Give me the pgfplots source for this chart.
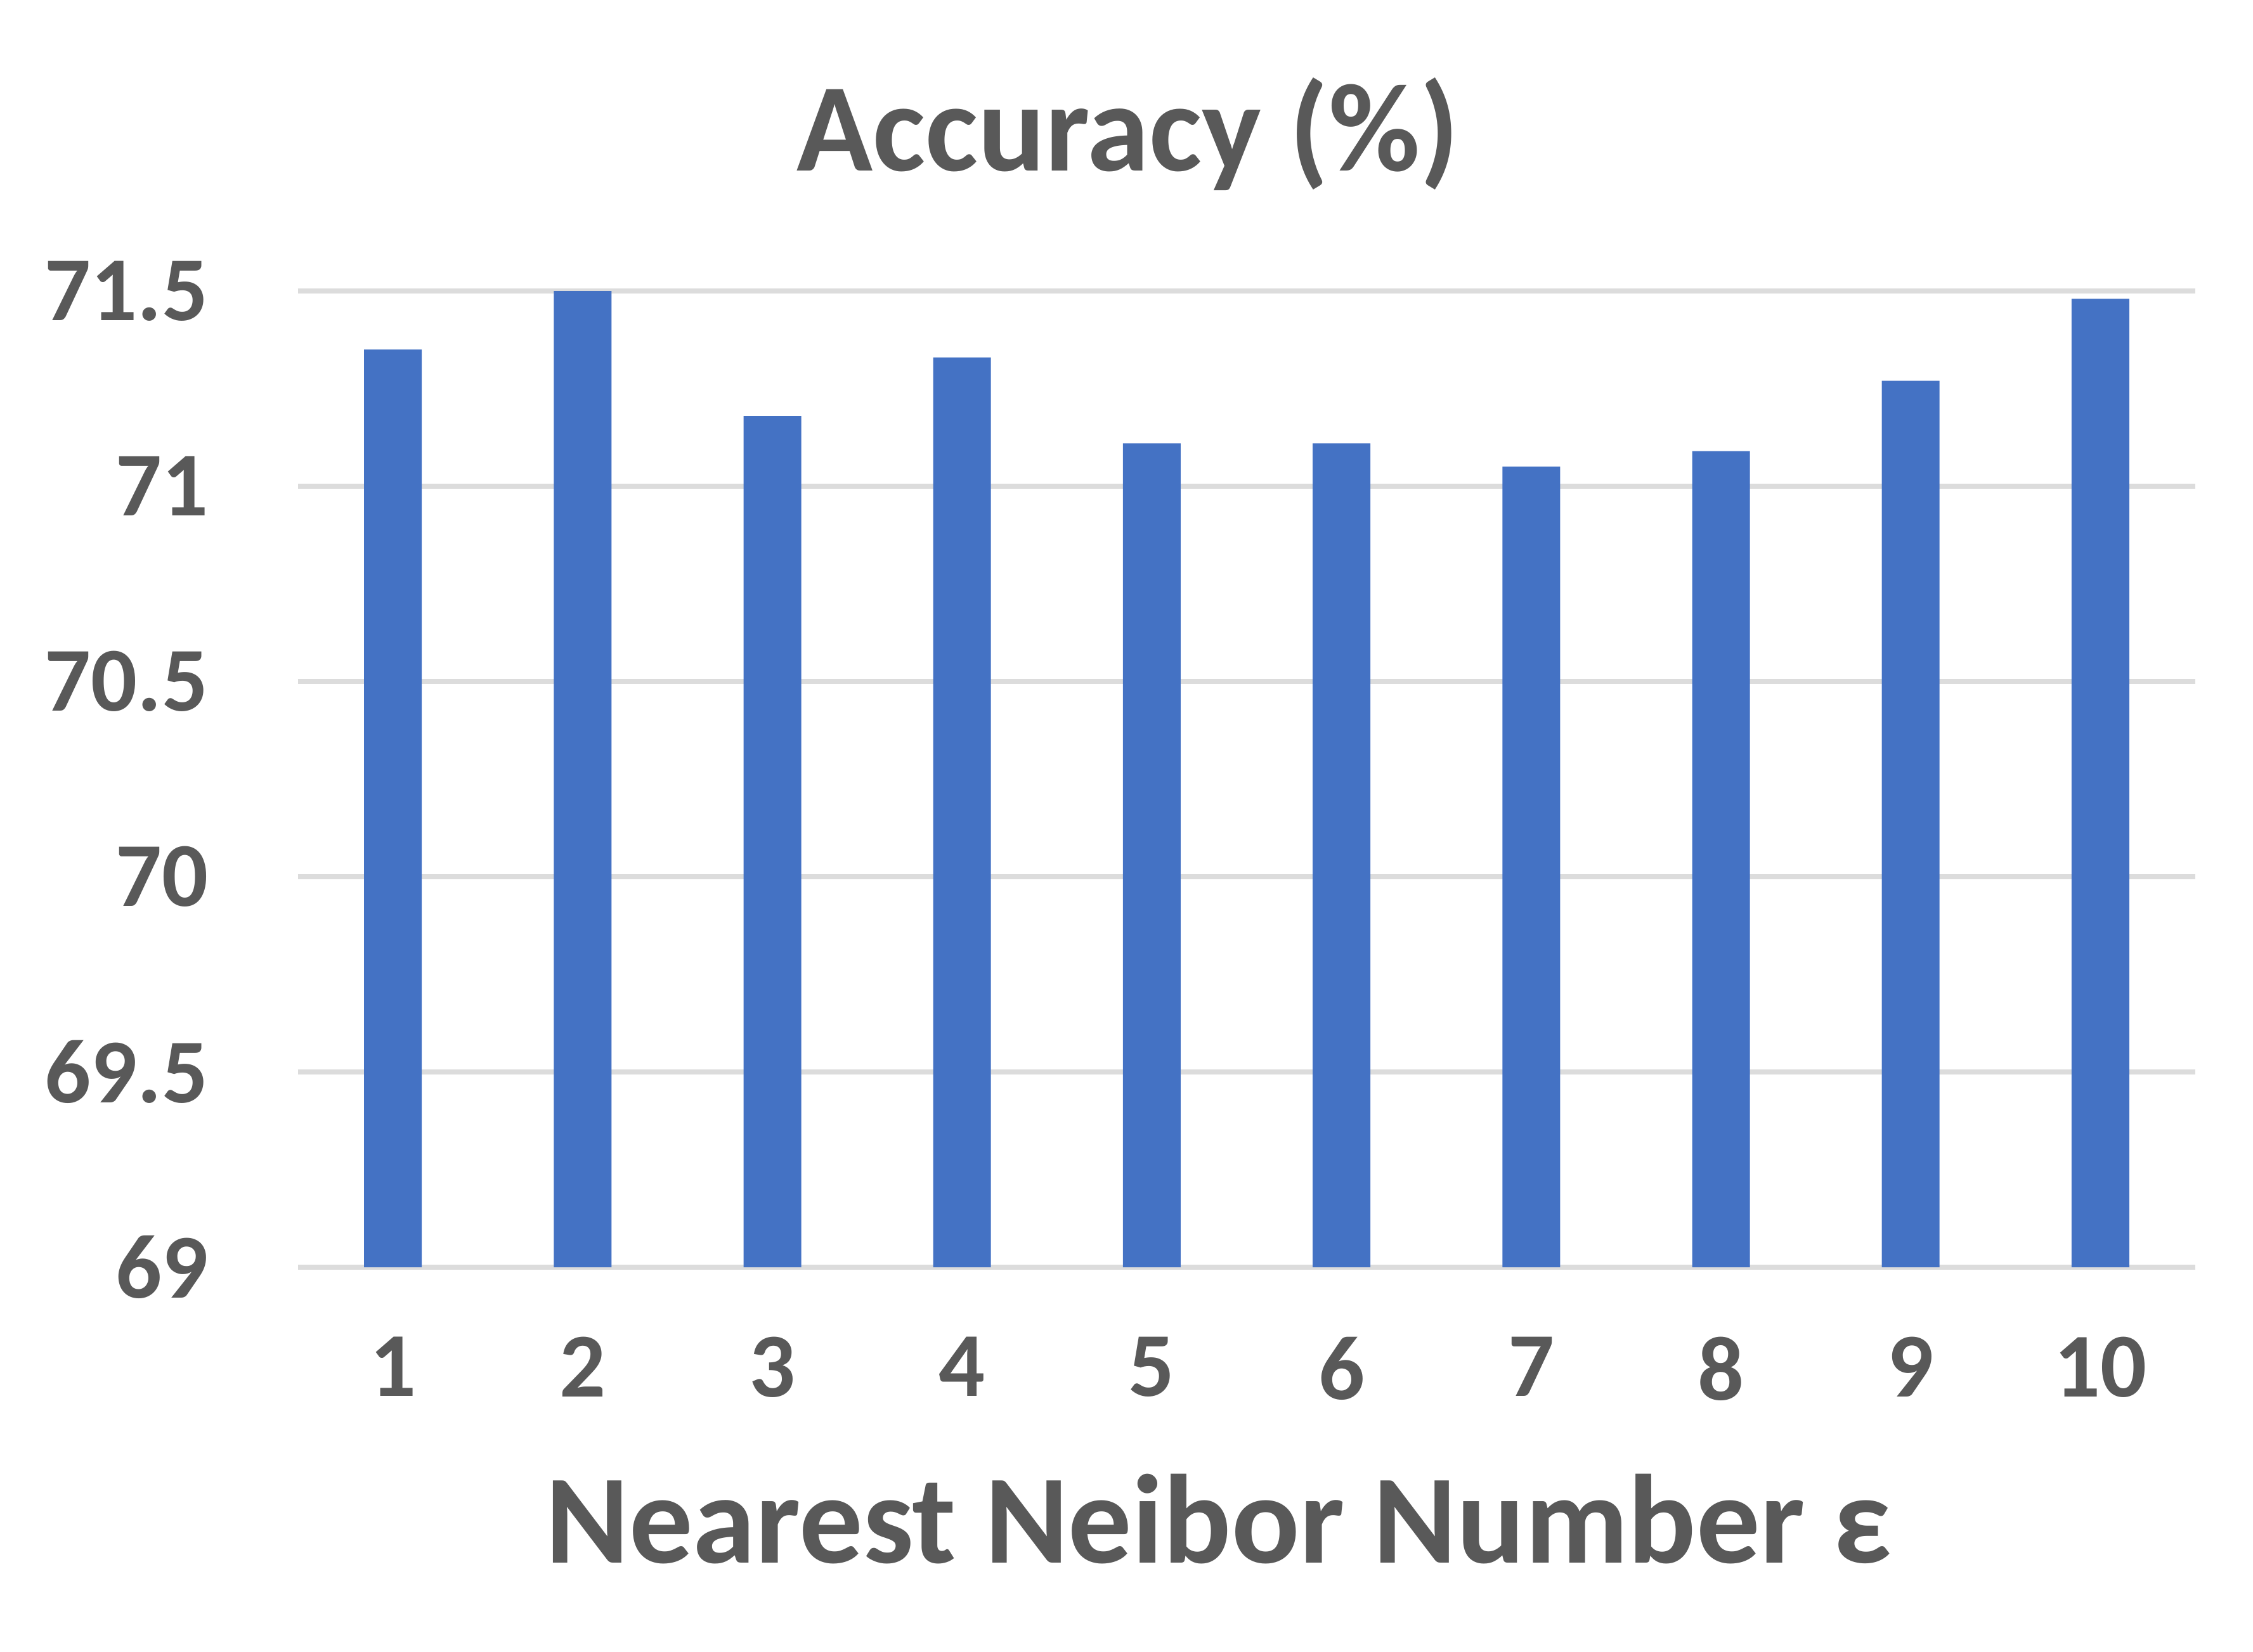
\documentclass[border=0pt]{standalone}
\usepackage{pgfplots}
\pgfplotsset{compat=1.18}
\usepackage{fontspec}
\setmainfont{Carlito}
\definecolor{barblue}{HTML}{4472C4}
\definecolor{txtgray}{HTML}{595959}
\definecolor{gridgray}{HTML}{DCDCDC}
\begin{document}
\begin{tikzpicture}
\useasboundingbox (-47pt,-60.6pt) rectangle (308.3pt,199.9pt);
\begin{axis}[
  at={(0,0)}, anchor=south west,
  scale only axis,
  width=299.2pt, height=154pt,
  xmin=0.5, xmax=10.5,
  ymin=69, ymax=71.5,
  ytick={69,69.5,70,70.5,71,71.5},
  xtick={1,2,3,4,5,6,7,8,9,10},
  axis line style={draw=none},
  major tick length=0pt,
  ymajorgrids,
  grid style={gridgray, line width=0.8pt},
  /pgf/number format/assume math mode=true,
  ticklabel style={font=\fontsize{14.4}{17}\selectfont\bfseries, text=txtgray},
  yticklabel style={anchor=east, inner sep=0pt, xshift=-14pt},
  xticklabel style={anchor=north, inner sep=0pt, yshift=-10.8pt},
  title={Accuracy (\%)},
  title style={at={(0.4375,1.0838)}, anchor=base, inner sep=0pt, font=\fontsize{19.8}{23}\selectfont\bfseries, text=txtgray},
  xlabel={Nearest Neibor Number ε},
  xlabel style={at={(0.4853,-0.3026)}, anchor=base, inner sep=0pt, font=\fontsize{20}{24}\selectfont\bfseries, text=txtgray},
  clip=false,
]
\addplot[ybar, bar width=9.1pt, fill=barblue, draw=none] coordinates {
  (1,71.35) (2,71.50) (3,71.18) (4,71.33) (5,71.11)
  (6,71.11) (7,71.05) (8,71.09) (9,71.27) (10,71.48)
};
\end{axis}
\end{tikzpicture}
\end{document}
